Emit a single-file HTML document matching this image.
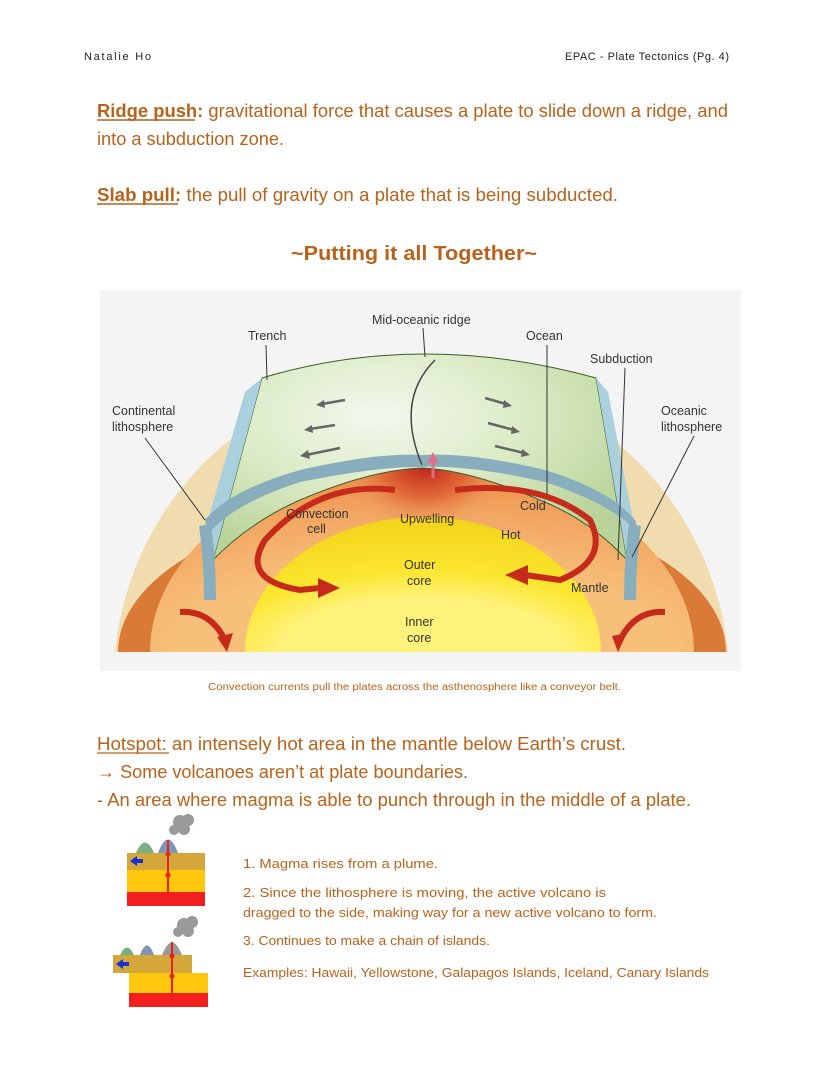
<!DOCTYPE html>
<html><head><meta charset="utf-8"><style>
html,body{margin:0;padding:0;background:#fff;}
svg{display:block;}
.t{font-family:"Comic Sans MS","Liberation Sans",sans-serif;fill:#b8621b;}
.l{font-family:"Liberation Sans",sans-serif;fill:#333;font-size:12.5px;}
</style></head><body>
<svg width="828" height="1071" viewBox="0 0 828 1071" xmlns="http://www.w3.org/2000/svg">
<text x="84" y="60" font-family="Liberation Sans,sans-serif" font-size="11" fill="#222" textLength="67">Natalie Ho</text>
<text x="565" y="60" font-family="Liberation Sans,sans-serif" font-size="11" fill="#222" textLength="164">EPAC - Plate Tectonics (Pg. 4)</text>

<text class="t" x="97" y="117" font-size="18" textLength="631" lengthAdjust="spacingAndGlyphs"><tspan font-weight="bold">Ridge push:</tspan> gravitational force that causes a plate to slide down a ridge, and</text>
<line x1="97" y1="120" x2="195" y2="120" stroke="#b8621b" stroke-width="1.5"/>
<text class="t" x="97" y="145" font-size="18" textLength="187" lengthAdjust="spacingAndGlyphs">into a subduction zone.</text>
<text class="t" x="97" y="201" font-size="18" textLength="521" lengthAdjust="spacingAndGlyphs"><tspan font-weight="bold">Slab pull:</tspan> the pull of gravity on a plate that is being subducted.</text>
<line x1="97" y1="204" x2="178" y2="204" stroke="#b8621b" stroke-width="1.5"/>
<text class="t" x="291" y="260" font-size="20" font-weight="bold" textLength="246" lengthAdjust="spacingAndGlyphs">~Putting it all Together~</text>

<rect x="100" y="290" width="641" height="381" fill="#f4f4f4"/>
<defs>
<radialGradient id="mant" cx="50%" cy="100%" r="100%">
<stop offset="0.45" stop-color="#f7c07a"/><stop offset="0.75" stop-color="#f2a561"/><stop offset="1" stop-color="#e98840"/>
</radialGradient>
<radialGradient id="up" cx="50%" cy="30%" r="50%">
<stop offset="0" stop-color="#b81818"/><stop offset="0.5" stop-color="#dc5a30" stop-opacity="0.8"/><stop offset="1" stop-color="#f2a561" stop-opacity="0"/>
</radialGradient>
<radialGradient id="grn" cx="40%" cy="30%" r="70%">
<stop offset="0" stop-color="#f4f8ef"/><stop offset="0.5" stop-color="#dcebc6"/><stop offset="1" stop-color="#b9d49a"/>
</radialGradient>
<radialGradient id="core" cx="50%" cy="100%" r="100%">
<stop offset="0.4" stop-color="#fff27a"/><stop offset="0.6" stop-color="#fbe62f"/><stop offset="1" stop-color="#f4d21a"/>
</radialGradient>
</defs>
<path d="M115,652 A308,310 0 0 1 728,652 Z" fill="#f0dcae"/>
<path d="M118,652 A304,150 0 0 1 726,652 Z" fill="#d97a36"/>
<path d="M150,652 A272,190 0 0 1 694,652 Z" fill="url(#mant)"/>
<ellipse cx="425" cy="490" rx="85" ry="70" fill="url(#up)"/>
<path d="M262,378 Q422,330 596,378 L627,560 Q590,520 540,500 Q470,470 422,468 Q370,470 300,500 Q250,522 213,560 Z" fill="url(#grn)" stroke="#3a5d2a" stroke-width="1"/>
<path d="M262,378 L213,560 L205,530 L245,392 Z" fill="#a9d0dc"/>
<path d="M596,378 L627,560 L635,530 L608,392 Z" fill="#a9d0dc"/>
<path d="M205,520 Q230,490 300,470 Q380,452 422,455 Q470,452 545,470 Q610,490 635,520 L640,535 Q615,505 545,482 Q470,465 422,467 Q380,466 300,482 Q230,505 208,535 Z" fill="#88aebd"/>
<path d="M205,525 Q210,560 210,600" stroke="#88aebd" stroke-width="12" fill="none"/>
<path d="M635,525 Q630,560 630,600" stroke="#88aebd" stroke-width="12" fill="none"/>
<path d="M422,465 Q395,400 435,360" stroke="#444" stroke-width="1.5" fill="none"/>
<g stroke="#666" stroke-width="2.5" fill="none">
<path d="M345,400 L322,404"/><path d="M335,425 L310,429"/><path d="M340,448 L306,455"/>
<path d="M485,398 L506,404"/><path d="M488,423 L514,430"/><path d="M495,446 L524,453"/>
</g>
<g fill="#666">
<path d="M316,405 L324,400 L325,408 Z"/><path d="M304,430 L312,425 L313,433 Z"/><path d="M300,456 L308,450 L310,459 Z"/>
<path d="M512,406 L504,400 L503,408 Z"/><path d="M520,432 L512,426 L511,434 Z"/><path d="M530,455 L522,449 L521,457 Z"/>
</g>
<path d="M245,652 A178,135 0 0 1 601,652 Z" fill="url(#core)"/>
<g fill="none" stroke="#c52a1a" stroke-width="6">
<path d="M395,490 Q320,480 265,540 Q240,580 300,590 L320,588"/>
<path d="M455,490 Q540,480 590,520 Q610,560 560,580 L525,575"/>
<path d="M180,612 Q210,610 225,640"/>
<path d="M665,612 Q635,610 620,640"/>
</g>
<g fill="#c52a1a">
<path d="M318,578 L340,588 L318,598 Z"/><path d="M528,565 L505,575 L528,585 Z"/>
<path d="M217,637 L227,652 L233,633 Z"/><path d="M627,633 L618,652 L612,636 Z"/>
</g>
<path d="M433,478 L433,460" stroke="#e0708a" stroke-width="3"/><path d="M427,463 L433,452 L439,463 Z" fill="#e0708a"/>
<g stroke="#333" stroke-width="1" fill="none">
<path d="M423,328 L425,357"/><path d="M266,345 L267,380"/><path d="M547,345 L547,495"/><path d="M625,368 L618,560"/>
<path d="M145,438 L205,520"/><path d="M694,436 L632,557"/>
</g>
<text class="l" x="372" y="324">Mid-oceanic ridge</text>
<text class="l" x="248" y="340">Trench</text>
<text class="l" x="526" y="340">Ocean</text>
<text class="l" x="590" y="363">Subduction</text>
<text class="l" x="112" y="415">Continental</text>
<text class="l" x="112" y="431">lithosphere</text>
<text class="l" x="661" y="415">Oceanic</text>
<text class="l" x="661" y="431">lithosphere</text>
<text class="l" x="286" y="518">Convection</text>
<text class="l" x="307" y="533">cell</text>
<text class="l" x="400" y="523">Upwelling</text>
<text class="l" x="520" y="510">Cold</text>
<text class="l" x="501" y="539">Hot</text>
<text class="l" x="404" y="569">Outer</text>
<text class="l" x="407" y="585">core</text>
<text class="l" x="571" y="592">Mantle</text>
<text class="l" x="405" y="626">Inner</text>
<text class="l" x="407" y="642">core</text>

<text class="t" x="208" y="690" font-size="10" textLength="413" lengthAdjust="spacingAndGlyphs">Convection currents pull the plates across the asthenosphere like a conveyor belt.</text>

<text class="t" x="97" y="750" font-size="18" textLength="529" lengthAdjust="spacingAndGlyphs">Hotspot: an intensely hot area in the mantle below Earth’s crust.</text>
<line x1="97" y1="753" x2="169" y2="753" stroke="#b8621b" stroke-width="1.2"/>
<text class="t" x="97" y="778" font-size="18" textLength="371" lengthAdjust="spacingAndGlyphs">→ Some volcanoes aren’t at plate boundaries.</text>
<text class="t" x="97" y="806" font-size="18" textLength="594" lengthAdjust="spacingAndGlyphs">- An area where magma is able to punch through in the middle of a plate.</text>

<path d="M136,853 Q145,832 154,853 Z" fill="#78b082"/>
<path d="M158,853 Q168,826 178,853 Z" fill="#7f95b5"/>
<g fill="#999"><circle cx="180" cy="822" r="7"/><circle cx="188" cy="820" r="6"/><circle cx="174" cy="830" r="5"/><circle cx="184" cy="829" r="6"/></g>
<rect x="127" y="853" width="78" height="17" fill="#d4a73a"/>
<rect x="127" y="870" width="78" height="22" fill="#fcc70d"/>
<rect x="127" y="892" width="78" height="14" fill="#f21f1f"/>
<line x1="168" y1="840" x2="168" y2="894" stroke="#e8201c" stroke-width="2"/>
<circle cx="168" cy="854" r="2.5" fill="#e8201c"/><circle cx="168" cy="875" r="2.5" fill="#e8201c"/>
<path d="M130,861 L137,856 L137,859 L143,859 L143,863 L137,863 L137,866 Z" fill="#1530d8"/>
<path d="M120,955 Q127,940 134,955 Z" fill="#78b082"/>
<path d="M140,955 Q147,936 154,955 Z" fill="#7f95b5"/>
<path d="M162,955 Q172,930 182,955 Z" fill="#999"/>
<g fill="#999"><circle cx="184" cy="925" r="7"/><circle cx="192" cy="922" r="6"/><circle cx="178" cy="932" r="5"/><circle cx="188" cy="931" r="6"/></g>
<rect x="113" y="955" width="79" height="18" fill="#d4a73a"/>
<rect x="129" y="973" width="79" height="20" fill="#fcc70d"/>
<rect x="129" y="993" width="79" height="14" fill="#f21f1f"/>
<line x1="172" y1="942" x2="172" y2="995" stroke="#e8201c" stroke-width="2"/>
<circle cx="172" cy="956" r="2.5" fill="#e8201c"/><circle cx="172" cy="976" r="2.5" fill="#e8201c"/>
<path d="M116,964 L123,959 L123,962 L129,962 L129,966 L123,966 L123,969 Z" fill="#1530d8"/>

<g font-size="13">
<text class="t" x="243" y="868" textLength="195" lengthAdjust="spacingAndGlyphs">1. Magma rises from a plume.</text>
<text class="t" x="243" y="897" textLength="363" lengthAdjust="spacingAndGlyphs">2. Since the lithosphere is moving, the active volcano is</text>
<text class="t" x="243" y="917" textLength="414" lengthAdjust="spacingAndGlyphs">dragged to the side, making way for a new active volcano to form.</text>
<text class="t" x="243" y="945" textLength="247" lengthAdjust="spacingAndGlyphs">3. Continues to make a chain of islands.</text>
<text class="t" x="243" y="977" textLength="466" lengthAdjust="spacingAndGlyphs">Examples: Hawaii, Yellowstone, Galapagos Islands, Iceland, Canary Islands</text>
</g>
</svg>
</body></html>
